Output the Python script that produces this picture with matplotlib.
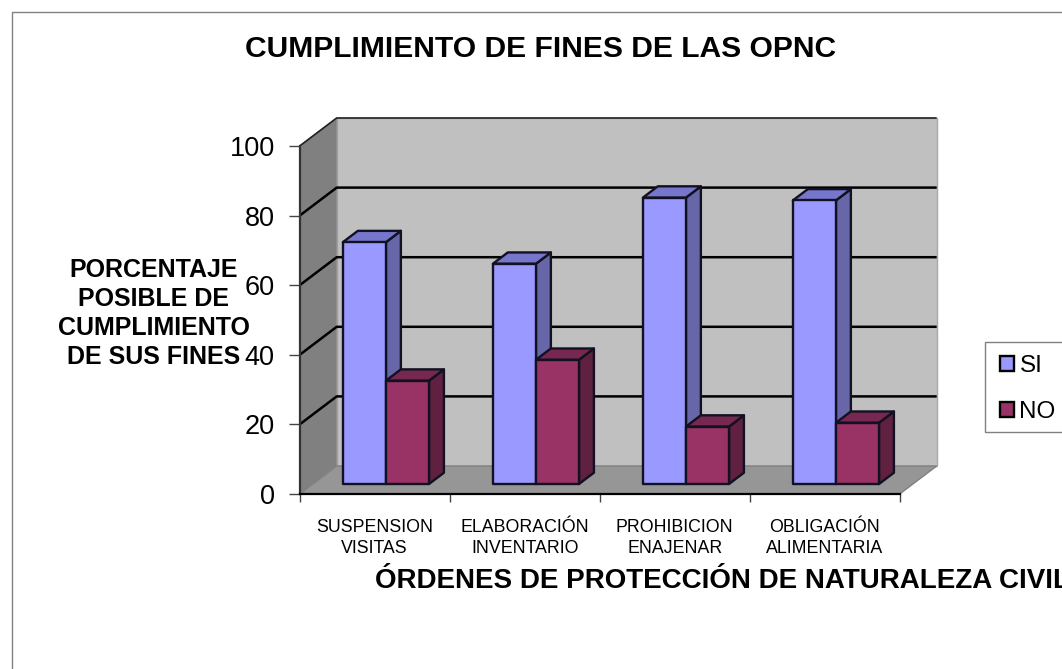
import matplotlib
matplotlib.use("Agg")
import matplotlib.pyplot as plt
from matplotlib.patches import Polygon, Patch, Rectangle

categories = ["SUSPENSION\nVISITAS", "ELABORACIÓN\nINVENTARIO", "PROHIBICION\nENAJENAR", "OBLIGACIÓN\nALIMENTARIA"]
si_values = [69.5, 63.3, 82.3, 81.5]
no_values = [29.7, 35.7, 16.5, 17.6]
yticks = [0, 20, 40, 60, 80, 100]

W, H = 1062, 669
plt.rcParams['font.family'] = ['Liberation Sans', 'DejaVu Sans']
fig = plt.figure(figsize=(W/100, H/100), dpi=100, facecolor='white')
ax = fig.add_axes([299.7/W, (H-494)/H, 600/W, 348/H])
ax.set_xlim(0, 4)
ax.set_ylim(0, 100)
ax.patch.set_visible(False)

# oblique projection: depth d in 0..1 shifts right and up
DX = 37/150
DY = 28/3.48
def P(x, y, d=0.0):
    return (x + d*DX, y + d*DY)

# walls
ax.add_patch(Polygon([P(0,0,1), P(4,0,1), P(4,100,1), P(0,100,1)], fc='#C0C0C0', ec='#a8a8a8', lw=1, zorder=1, clip_on=False))
ax.add_patch(Polygon([P(0,0,0), P(0,0,1), P(0,100,1), P(0,100,0)], fc='#808080', ec='#909090', lw=1, zorder=1, clip_on=False))
ax.add_patch(Polygon([P(0,0,0), P(4,0,0), P(4,0,1), P(0,0,1)], fc='#969696', ec='#808080', lw=1, zorder=1, clip_on=False))

# gridlines
for v in yticks[1:]:
    xs, ys = zip(P(0, v, 0), P(0, v, 1), P(4, v, 1))
    lw = 1.2 if v == 100 else 1.8
    ax.plot(xs, ys, color='#222222' if v == 100 else 'black', lw=lw, zorder=2, clip_on=False, solid_capstyle='butt')

# bars
BW, GAP, D0, D1 = 0.287, 0.2, 0.357, 0.76
def bar3d(x0, v, front, side, top):
    x1 = x0 + BW
    kw = dict(ec='#111122', lw=1.7, zorder=3, clip_on=False, joinstyle='round')
    ax.add_patch(Polygon([P(x1,0,D0), P(x1,0,D1), P(x1,v,D1), P(x1,v,D0)], fc=side, **kw))
    ax.add_patch(Polygon([P(x0,v,D0), P(x1,v,D0), P(x1,v,D1), P(x0,v,D1)], fc=top, **kw))
    ax.add_patch(Polygon([P(x0,0,D0), P(x1,0,D0), P(x1,v,D0), P(x0,v,D0)], fc=front, **kw))

for i, (s, n) in enumerate(zip(si_values, no_values)):
    bar3d(i + GAP, s, '#9999FF', '#6666A8', '#7676CC')
    bar3d(i + GAP + BW, n, '#993366', '#602040', '#772850')

# axes
for k in ['top', 'right']:
    ax.spines[k].set_visible(False)
ax.spines['left'].set_color('#333333')
ax.spines['left'].set_linewidth(1.6)
ax.spines['left'].set_zorder(2.5)
ax.spines['bottom'].set_color('black')
ax.spines['bottom'].set_linewidth(1.6)
ax.spines['bottom'].set_zorder(2.5)
ax.set_yticks(yticks)
ax.tick_params(axis='y', labelsize=19.5, length=8, width=1, color='#444444', pad=10)
ax.set_xticks(range(5))
ax.set_xticklabels([])
ax.set_xticks([i + 0.5 for i in range(4)], categories, minor=True)
ax.tick_params(axis='x', which='major', length=6, width=1, color='#444444')
ax.tick_params(axis='x', which='minor', length=0, labelsize=12.8, pad=18)
for lab in ax.get_xticklabels(minor=True):
    lab.set_linespacing(1.33)

def fx(px): return px / W
def fy(py): return 1 - py / H

fig.text(fx(540.5), fy(49), "CUMPLIMIENTO DE FINES DE LAS OPNC", ha='center', va='center', fontsize=21.6, fontweight='bold')
fig.text(fx(154), fy(313.5), "PORCENTAJE\nPOSIBLE DE\nCUMPLIMIENTO\nDE SUS FINES", ha='center', va='center',
         fontsize=18, fontweight='bold', linespacing=1.27)
fig.text(fx(375), fy(581), "ÓRDENES DE PROTECCIÓN DE NATURALEZA CIVIL", ha='left', va='center',
         fontsize=20, fontweight='bold')

# outer frame (extends past the image on right and bottom)
fig.add_artist(Rectangle((fx(12), fy(700)), fx(1100), fy(12)-fy(700), transform=fig.transFigure, fill=False, ec='#808080', lw=1))
fig.add_artist(Rectangle((fx(985), fy(432)), fx(120), fy(342)-fy(432), transform=fig.transFigure, fc='white', ec='#808080', lw=1))

leg_handles = [Patch(fc='#9999FF', ec='black', lw=1.7, label='SI'), Patch(fc='#993366', ec='black', lw=1.7, label='NO')]
leg = fig.legend(handles=leg_handles, loc='upper left', bbox_to_anchor=(fx(1000), fy(355)), borderaxespad=0,
                 fontsize=17.5, frameon=False, handlelength=0.58, handleheight=0.58, handletextpad=0.22,
                 labelspacing=1.0, borderpad=0)

fig.savefig("out.png", dpi=100)
